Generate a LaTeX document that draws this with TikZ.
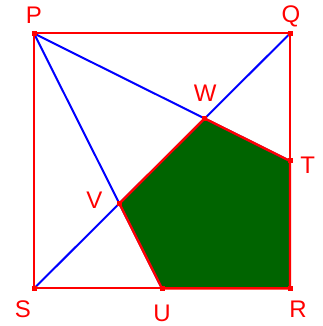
\documentclass[tikz,border=0pt]{standalone}
\usepackage{fontspec}
\setmainfont{Liberation Sans}
\usetikzlibrary{calc}
\definecolor{pgreen}{RGB}{0,100,0}
\begin{document}
\begin{tikzpicture}[x=1pt,y=1pt,
  pt/.style={rectangle,fill=red,inner sep=0pt,minimum size=5pt},
  lbl/.style={text=red,font=\fontsize{24}{26}\selectfont,inner sep=0pt,anchor=base},
  sq/.style={draw=red,line width=2pt},
  bl/.style={draw=blue,line width=2pt},
  pent/.style={draw=red,line width=2.4pt,line join=round}]
\useasboundingbox (0,0) rectangle (322,326);
\coordinate (P) at (34,292.5);
\coordinate (Q) at (290,292.5);
\coordinate (S) at (34,37.5);
\coordinate (R) at (290,37.5);
\coordinate (T) at (290,165);
\coordinate (U) at (162,37.5);
\coordinate (W) at ($(S)!2/3!(Q)$);
\coordinate (V) at ($(S)!1/3!(Q)$);
\fill[pgreen] (W) -- (T) -- (R) -- (U) -- (V) -- cycle;
\draw[bl] (P) -- (T);
\draw[bl] (P) -- (U);
\draw[bl] (S) -- (Q);
\draw[sq] (P) -- (Q) -- (R) -- (S) -- cycle;
\draw[pent] (W) -- (T) -- (R) -- (U) -- (V) -- cycle;
\foreach \p in {P,Q,R,S,T,U,V,W} \node[pt] (d\p) at (\p) {};
\node[lbl] (lP) at (34,302.5) {P};
\node[lbl] (lQ) at (291,303) {Q};
\node[lbl] (lW) at (205.3,224) {W};
\node[lbl] (lT) at (307.7,152) {T};
\node[lbl] (lV) at (94.5,117.7) {V};
\node[lbl] (lS) at (22.8,8.5) {S};
\node[lbl] (lU) at (162,4.8) {U};
\node[lbl] (lR) at (298,8.3) {R};
\end{tikzpicture}
\end{document}
